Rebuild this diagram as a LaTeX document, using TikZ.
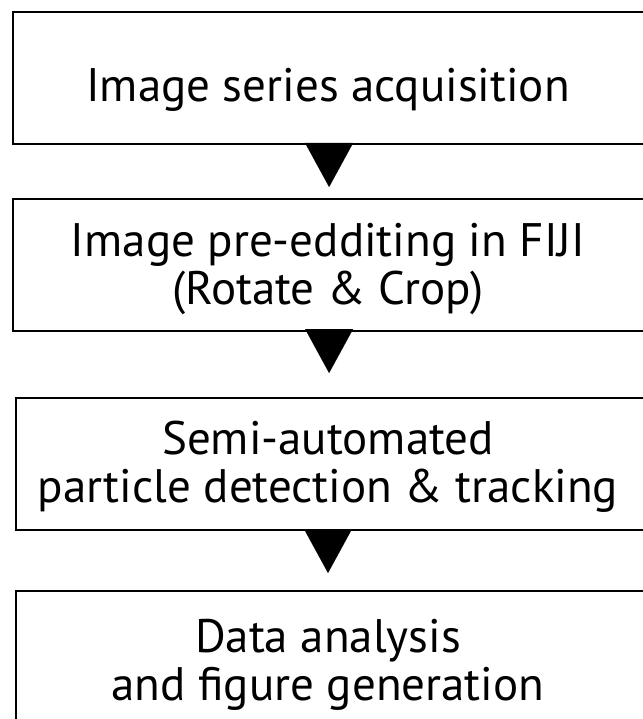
\documentclass[tikz,border=0pt]{standalone}
\usepackage{fontspec}
\setmainfont{PT Sans}
\usetikzlibrary{arrows.meta}

\begin{document}
\begin{tikzpicture}[x=1pt,y=-1pt,
    stepbox/.style={draw=black,line width=2.2pt,inner sep=0pt,minimum height=132pt,anchor=north west},
    steptext/.style={font=\fontsize{47}{48}\selectfont,align=center,anchor=base},
    steparrow/.style={-{Triangle[width=48pt,length=44pt]},line width=0.1pt}
]

    \useasboundingbox (0,0) rectangle (642,719);

    % boxes (right side runs off the page)
    \node[stepbox,minimum width=632pt] (acq)   at (12,11)  {};
    \node[stepbox,minimum width=632pt] (edit)  at (12,198) {};
    \node[stepbox,minimum width=629pt] (track) at (15,397) {};
    \node[stepbox,minimum width=629pt] (plot)  at (15,590) {};

    % texts (base = last line)
    \node[steptext] (acq-t)   at (328,102) {Image series acquisition};
    \node[steptext] (edit-t)  at (328,304) {Image pre-edditing in FIJI\\(Rotate \& Crop)};
    \node[steptext] (track-t) at (328,502) {Semi-automated\\particle detection \& tracking};
    \node[steptext] (plot-t)  at (328,700) {Data analysis\\and figure generation};

    % triangles between the steps
    \draw[steparrow,shorten >=11pt] (acq.south) -- (acq.south |- edit.north);
    \draw[steparrow,shorten >=24pt] (edit.south) -- (edit.south |- track.north);
    \draw[steparrow,shorten >=17pt] (328,530) -- (328,590);
\end{tikzpicture}
\end{document}
